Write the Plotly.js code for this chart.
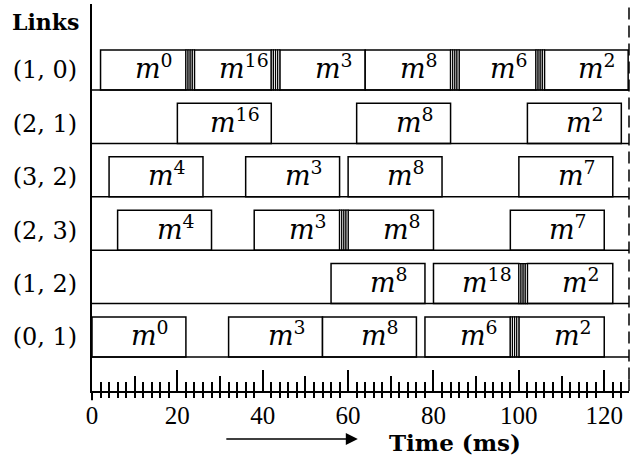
<!DOCTYPE html>
<html>
<head>
<meta charset="utf-8">
<script src="https://cdn.plot.ly/plotly-3.0.1.min.js"></script>
<style>html,body{margin:0;padding:0;background:#fff;}</style>
</head>
<body>
<div id="chart" style="width:631px;height:464px;"></div>
<script>
// ---- data ----
const links = ["(1, 0)", "(2, 1)", "(3, 2)", "(2, 3)", "(1, 2)", "(0, 1)"];
const messages = [[0, 16, 3, 8, 6, 2], [16, 8, 2], [4, 3, 8, 7], [4, 3, 8, 7], [8, 18, 2], [0, 3, 8, 6, 2]];
const starts   = [[2, 24, 44, 64, 86, 106], [20, 62, 102], [4, 36, 60, 100], [6, 38, 60, 98], [56, 80, 102], [0, 32, 54, 78, 100]];
const ends     = [[22, 42, 64, 84, 104, 125.6], [42, 84, 124], [26, 58, 82, 122], [28, 58, 80, 120], [78, 100, 122], [22, 54, 76, 98, 120]];
const sepStarts = [[22, 42, 84, 104], [], [], [58], [100], [98]];
const sepDuration = 2;
const majorTicks = [0, 20, 40, 60, 80, 100, 120];
const timeMax = 125.8;

// ---- build ----
const nRows = links.length;
const barH = 0.75;
const rowBase = i => nRows - 1 - i;

const mx = [], mb = [], my = [], annotations = [];
messages.forEach((row, i) => {
  row.forEach((k, j) => {
    mb.push(starts[i][j]);
    mx.push(ends[i][j] - starts[i][j]);
    my.push(rowBase(i) + barH / 2);
    annotations.push({
      x: (starts[i][j] + ends[i][j]) / 2, y: rowBase(i) + barH / 2,
      xref: 'x', yref: 'y', showarrow: false, xshift: 11, yshift: 3,
      text: '<i>m</i><sup>' + k + '</sup>',
      font: {family: 'DejaVu Serif', size: 27, color: '#000'}
    });
  });
});

const sx = [], sb = [], sy = [];
const nSub = 4;
sepStarts.forEach((row, i) => {
  row.forEach(s => {
    for (let j = 0; j < nSub; j++) {
      sb.push(s + j * sepDuration / nSub);
      sx.push(sepDuration / nSub);
      sy.push(rowBase(i) + barH / 2);
    }
  });
});

const minorBelow = [];
for (let t = 0; t <= timeMax; t += 2) { if (t % 20 !== 0 || t === 0) minorBelow.push(t); }

const traces = [
  {type: 'bar', orientation: 'h', x: mx, base: mb, y: my, width: barH,
   marker: {color: '#fff', line: {color: '#000', width: 1.5}}, hoverinfo: 'skip', showlegend: false},
  {type: 'bar', orientation: 'h', x: sx, base: sb, y: sy, width: barH,
   marker: {color: '#fff', line: {color: '#000', width: 1.2}}, hoverinfo: 'skip', showlegend: false},
  {type: 'scatter', mode: 'markers', x: [0], y: [null], xaxis: 'x2', showlegend: false, hoverinfo: 'skip'},
  {type: 'scatter', mode: 'markers', x: [0], y: [null], xaxis: 'x3', showlegend: false, hoverinfo: 'skip'}
];

const shapes = [];
for (let i = 0; i < nRows; i++) {
  shapes.push({type: 'line', xref: 'paper', x0: 0, x1: 1, yref: 'y', y0: rowBase(i), y1: rowBase(i),
               line: {color: '#000', width: 1.5}});
}
shapes.push({type: 'line', xref: 'paper', x0: 1, x1: 1, yref: 'paper', y0: 0.03, y1: 1,
             line: {color: '#000', width: 1.5, dash: '12px,6px'}});
shapes.push({type: 'line', xref: 'paper', x0: 1, x1: 1, yref: 'paper', y0: 0, y1: 0.03,
             line: {color: '#000', width: 1.5}});
shapes.push({type: 'line', xref: 'paper', x0: 0, x1: 0, yref: 'paper', y0: -0.024, y1: 0,
             line: {color: '#000', width: 2}});

annotations.push({xref: 'paper', yref: 'paper', x: -0.086, y: 0.953, xanchor: 'center', yanchor: 'middle',
  showarrow: false, text: '<b>Links</b>', font: {family: 'DejaVu Serif', size: 22, color: '#000'}});
annotations.push({xref: 'paper', yref: 'paper', x: 0.676, y: -0.132, xanchor: 'center', yanchor: 'middle',
  showarrow: false, text: '<b>Time (ms)</b>', font: {family: 'DejaVu Serif', size: 23, color: '#000'}});
annotations.push({xref: 'paper', yref: 'paper', x: 0.495, y: -0.124, text: '',
  showarrow: true, ax: -133, ay: 0, axref: 'pixel', ayref: 'pixel',
  arrowhead: 2, arrowsize: 1.6, arrowwidth: 1.5, arrowcolor: '#000'});

const baseX = {range: [0, timeMax], showgrid: false, zeroline: false, fixedrange: true};
const layout = {
  width: 631, height: 464,
  margin: {l: 92, r: 2, t: 4, b: 73},
  paper_bgcolor: '#fff', plot_bgcolor: '#fff',
  barmode: 'overlay',
  showlegend: false,
  xaxis: Object.assign({}, baseX, {
    showline: true, linecolor: '#000', linewidth: 2,
    tickmode: 'array', tickvals: majorTicks, ticktext: majorTicks.map(String),
    ticks: 'inside', ticklen: 21, tickwidth: 2, tickcolor: '#000',
    ticklabelstandoff: 1,
    tickfont: {family: 'Liberation Serif', size: 25, color: '#000'},
    minor: {tickmode: 'linear', tick0: 0, dtick: 2, ticks: 'inside', ticklen: 9, tickwidth: 2, tickcolor: '#000'}
  }),
  xaxis2: Object.assign({}, baseX, {
    overlaying: 'x', anchor: 'y', side: 'bottom', showline: false,
    tickmode: 'linear', tick0: 0, dtick: 10, ticks: 'inside', ticklen: 15, tickwidth: 2, tickcolor: '#000',
    showticklabels: false
  }),
  xaxis3: Object.assign({}, baseX, {
    overlaying: 'x', anchor: 'y', side: 'bottom', showline: false,
    tickmode: 'array', tickvals: minorBelow, ticks: 'outside', ticklen: 6, tickwidth: 2, tickcolor: '#000',
    showticklabels: false
  }),
  yaxis: {
    range: [-0.637, 6.61], showgrid: false, zeroline: false, fixedrange: true,
    showline: true, linecolor: '#000', linewidth: 2, ticks: '',
    tickmode: 'array', tickvals: links.map((_, i) => rowBase(i) + barH / 2), ticktext: links,
    ticklabelstandoff: 8,
    tickfont: {family: 'DejaVu Serif', size: 24, color: '#000'}
  },
  shapes: shapes,
  annotations: annotations
};

Plotly.newPlot('chart', traces, layout, {displayModeBar: false, staticPlot: true});
</script>
</body>
</html>
